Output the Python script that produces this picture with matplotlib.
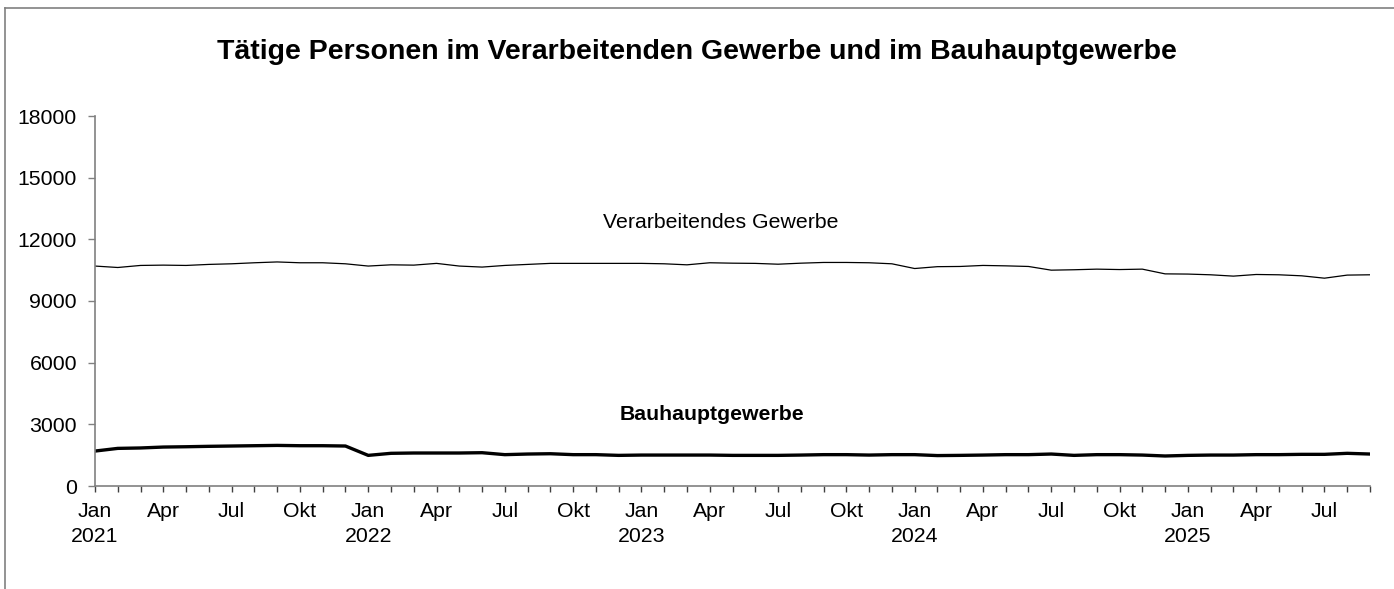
import numpy as np
import matplotlib

matplotlib.use('Agg')
import matplotlib.pyplot as plt

plt.rcParams['font.family'] = ['Liberation Sans', 'DejaVu Sans']

# Monatswerte Jan 2021 bis Sep 2025
month_names = ["Jan", "Feb", "Mär", "Apr", "Mai", "Jun", "Jul", "Aug", "Sep", "Okt", "Nov", "Dez"]
years = [2021, 2022, 2023, 2024, 2025]

verarbeitendes = [10700, 10630, 10730, 10745, 10730, 10780, 10810, 10860, 10900, 10860, 10860, 10810,
                  10700, 10760, 10745, 10830, 10700, 10650, 10730, 10780, 10830, 10830, 10830, 10830,
                  10830, 10810, 10760, 10860, 10840, 10830, 10790, 10840, 10875, 10875, 10860, 10810,
                  10580, 10670, 10680, 10730, 10710, 10680, 10500, 10520, 10550, 10530, 10550, 10320,
                  10310, 10275, 10210, 10290, 10275, 10225, 10110, 10260, 10275]

bauhaupt = [1700, 1830, 1850, 1895, 1910, 1930, 1945, 1960, 1975, 1960, 1960, 1945,
            1490, 1590, 1605, 1605, 1605, 1620, 1525, 1555, 1570, 1525, 1525, 1490,
            1505, 1505, 1505, 1505, 1490, 1490, 1490, 1505, 1525, 1525, 1505, 1525,
            1525, 1480, 1490, 1505, 1525, 1525, 1555, 1490, 1525, 1525, 1505, 1460,
            1490, 1505, 1505, 1525, 1525, 1540, 1540, 1590, 1555]

n = len(verarbeitendes)
x = np.arange(n)

tick_labels = []
for i in range(n):
    m = i % 12
    if m == 0:
        tick_labels.append("{}\n{}".format(month_names[m], years[i // 12]))
    elif m in (3, 6, 9):
        tick_labels.append(month_names[m])
    else:
        tick_labels.append("")

fig = plt.figure(figsize=(13.94, 5.89), dpi=100)
ax = fig.add_axes([95 / 1394, 103 / 589, 1275 / 1394, 370 / 589])

ax.plot(x, verarbeitendes, color='black', linewidth=0.9)
ax.plot(x, bauhaupt, color='black', linewidth=2.4)

ax.set_xlim(0, n - 1)
ax.set_ylim(0, 18000)
ax.set_yticks(np.arange(0, 18001, 3000))
ax.set_xticks(x)
ax.set_xticklabels(tick_labels, linespacing=1.38)

for side in ['top', 'right']:
    ax.spines[side].set_visible(False)
for side in ['left', 'bottom']:
    ax.spines[side].set_color('#808080')
    ax.spines[side].set_linewidth(1.2)

ax.tick_params(axis='y', direction='out', length=5, width=1, color='#808080', labelsize=15.3, pad=8)
ax.tick_params(axis='x', direction='out', length=4, width=1, color='#404040', labelsize=15.3, pad=7.5)

ax.text(27.5, 12800, "Verarbeitendes Gewerbe", ha='center', va='center', fontsize=15.3)
ax.text(27.1, 3500, "Bauhauptgewerbe", ha='center', va='center', fontsize=15.3, fontweight='bold')

fig.text(0.5, 1 - 52 / 589, "Tätige Personen im Verarbeitenden Gewerbe und im Bauhauptgewerbe",
         ha='center', va='center', fontsize=20.5, fontweight='bold')

# Rahmen links und oben
fig.add_artist(plt.Line2D([5 / 1394, 5 / 1394], [0, 1 - 8 / 589], transform=fig.transFigure,
                          color='#808080', linewidth=1.2))
fig.add_artist(plt.Line2D([5 / 1394, 1], [1 - 8 / 589, 1 - 8 / 589], transform=fig.transFigure,
                          color='#808080', linewidth=1.2))

plt.savefig("out.png", dpi=100)
